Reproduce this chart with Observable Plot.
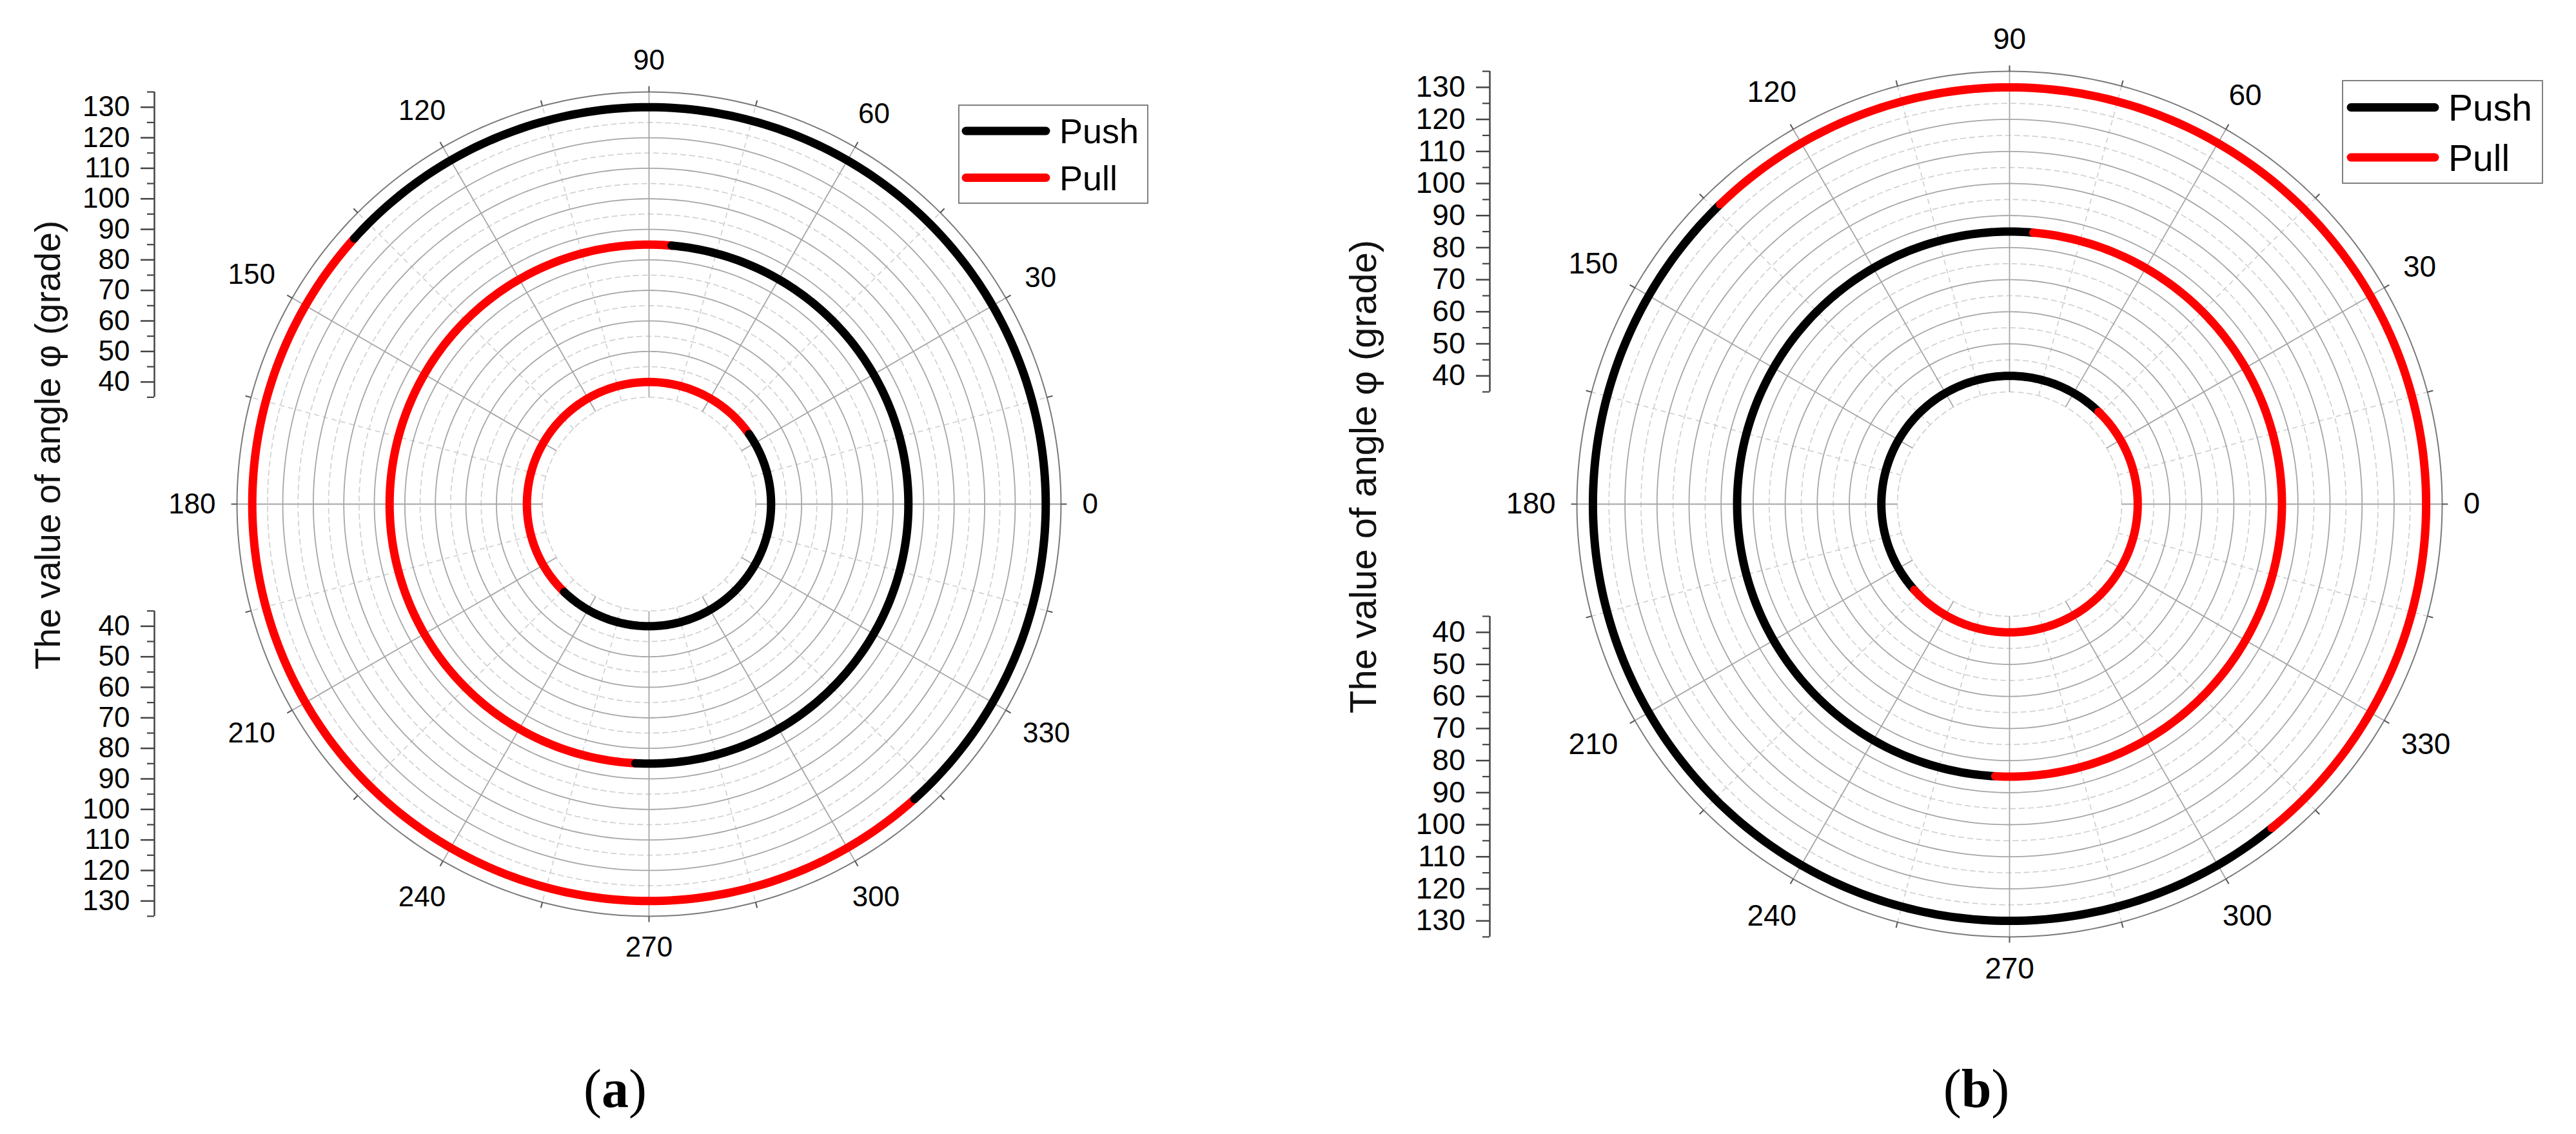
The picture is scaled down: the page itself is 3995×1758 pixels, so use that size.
<!DOCTYPE html>
<html><head><meta charset="utf-8">
<script src="https://cdn.jsdelivr.net/npm/d3@7"></script>
<script src="https://cdn.jsdelivr.net/npm/@observablehq/plot@0.6"></script>
<style>
body{margin:0;background:#fff;}
#page{position:relative;width:3995px;height:1758px;background:#fff;overflow:hidden;}
.panel{position:absolute;top:0;}
#overlay{position:absolute;left:0;top:0;pointer-events:none;}
</style></head><body><div id="page"></div>
<script>
// ---------------- data ----------------
const seriesNames = ["Push", "Pull"];
const seriesColors = ["#000000", "#ff0000"];
const ringValues = [40, 85, 130];
// panel (a): Push arc runs counter-clockwise from start to end angle (deg), Pull fills the rest
const pushStartA = [-134, -93, -48];
const pushEndA = [35, 85, 138];
// panel (b)
const pushStartB = [46, 85, 134];
const pushEndB = [222, 267, 309];
const angleTickLabels = [0, 30, 60, 90, 120, 150, 180, 210, 240, 270, 300, 330];
const angleMinorTicks = [15, 45, 75, 105, 135, 165, 195, 225, 255, 285, 315, 345];
const radialTickLabels = [40, 50, 60, 70, 80, 90, 100, 110, 120, 130];
const radialMinorTicks = [35, 45, 55, 65, 75, 85, 95, 105, 115, 125, 135];
const radialRange = [35, 135];
const yTitle = "The value of angle φ (grade)";
const panelLabels = ["a", "b"];

// ---------------- layout ----------------
const FONT = "'Liberation Sans', Arial, sans-serif";
const panels = [
  {left: 0, width: 1998, height: 1600, k: 4.733, cx: 1006, cy: 781, axisX: 239, fs: 44,
   pushStart: pushStartA, pushEnd: pushEndA, top: "Push",
   legend: {x: 1487, y: 163, w: 293, h: 152, l0: 4, l1: 142, tx: 156, r1: 40, r2: 112.5, fs: 54},
   title: {x: 74, y: 690, fs: 55}, cap: {x: 954, y: 1716, fs: 84}},
  {left: 1998, width: 1997, height: 1600, k: 4.97, cx: 3116, cy: 781, axisX: 2310, fs: 46,
   pushStart: pushStartB, pushEnd: pushEndB, top: "Pull",
   legend: {x: 3633, y: 125, w: 310, h: 159, l0: 6, l1: 150, tx: 164, r1: 41.5, r2: 119, fs: 57},
   title: {x: 2113, y: 739, fs: 58}, cap: {x: 3065, y: 1716, fs: 84}}
];

const rad = Math.PI / 180;
const cosd = a => Math.cos(a * rad), sind = a => Math.sin(a * rad);
function arcPts(r, a0, a1, extra) {
  const n = Math.max(2, Math.ceil(Math.abs(a1 - a0)));
  return d3.range(n + 1).map(i => {
    const a = a0 + (a1 - a0) * i / n;
    return {...extra, x: r * cosd(a), y: r * sind(a)};
  });
}

const page = document.getElementById("page");

panels.forEach((cfg, pi) => {
  const k = cfg.k;
  const xd = [-(cfg.cx - cfg.axisX) / k, (cfg.left + cfg.width - cfg.cx) / k];
  const yd = [-(cfg.height - cfg.cy) / k, cfg.cy / k];
  const [rMin, rMax] = radialRange;

  // rings
  const segs = ringValues.flatMap((v, i) => [
    {series: "Push", v, a0: cfg.pushStart[i], a1: cfg.pushEnd[i]},
    {series: "Pull", v, a0: cfg.pushEnd[i], a1: cfg.pushStart[i] + 360}
  ]);
  const pts = segs.flatMap((s, j) => arcPts(s.v, s.a0, s.a1, {seg: j, series: s.series}));
  const order = cfg.top === "Push" ? ["Pull", "Push"] : ["Push", "Pull"];

  const solidCircles = radialTickLabels.flatMap(r => arcPts(r, 0, 360, {r}));
  const dashCircles = radialMinorTicks.filter(r => r < rMax).flatMap(r => arcPts(r, 0, 360, {r}));
  const outerCircle = arcPts(rMax, 0, 360, {r: rMax});

  const labelR = a => {
    const w = String(a).length * 0.556 * cfg.fs, h = 0.72 * cfg.fs;
    return rMax + (33 + Math.abs(cosd(a)) * w / 2 + Math.abs(sind(a)) * h / 2) / k;
  };

  const axisSegs = [{y1: rMin, y2: rMax}, {y1: -rMin, y2: -rMax}];
  const majorTicks = radialTickLabels.flatMap(v => [v, -v]);
  const minorTicks = radialMinorTicks.flatMap(v => [v, -v]);

  const chart = Plot.plot({
    width: cfg.width, height: cfg.height,
    marginLeft: cfg.axisX - cfg.left, marginRight: 0, marginTop: 0, marginBottom: 0,
    x: {domain: xd, axis: null},
    y: {domain: yd},
    color: {domain: seriesNames, range: seriesColors},
    style: {fontFamily: FONT, fontSize: cfg.fs + "px", background: "transparent", overflow: "visible"},
    marks: [
      // grid
      Plot.line(dashCircles, {x: "x", y: "y", z: "r", stroke: "#cfcfcf", strokeWidth: 1.6, strokeDasharray: "8,6"}),
      Plot.link(angleMinorTicks, {x1: a => rMin * cosd(a), y1: a => rMin * sind(a), x2: a => rMax * cosd(a), y2: a => rMax * sind(a),
        stroke: "#cfcfcf", strokeWidth: 1.6, strokeDasharray: "8,6"}),
      Plot.line(solidCircles, {x: "x", y: "y", z: "r", stroke: "#a6a6a6", strokeWidth: 1.8}),
      Plot.link(angleTickLabels, {x1: a => rMin * cosd(a), y1: a => rMin * sind(a), x2: a => rMax * cosd(a), y2: a => rMax * sind(a),
        stroke: "#a6a6a6", strokeWidth: 1.8}),
      Plot.line(outerCircle, {x: "x", y: "y", stroke: "#7a7a7a", strokeWidth: 2}),
      Plot.link(angleTickLabels.concat(angleMinorTicks), {x1: a => rMax * cosd(a), y1: a => rMax * sind(a),
        x2: a => (rMax + 9 / k) * cosd(a), y2: a => (rMax + 9 / k) * sind(a), stroke: "#555", strokeWidth: 2}),
      // rings
      ...order.map(s => Plot.line(pts.filter(p => p.series === s), {x: "x", y: "y", z: "seg", stroke: "series",
        strokeWidth: 13, strokeLinecap: "round", strokeLinejoin: "round"})),
      // angle labels
      Plot.text(angleTickLabels, {x: a => labelR(a) * cosd(a), y: a => labelR(a) * sind(a), text: a => String(a),
        fontSize: cfg.fs, fill: "#000"}),
      // radial axis
      Plot.ruleX(axisSegs, {x: () => xd[0], y1: "y1", y2: "y2", stroke: "#444", strokeWidth: 2.5}),
      Plot.ruleY(minorTicks, {y: d => d, x1: () => xd[0] - 11 / k, x2: () => xd[0], stroke: "#444", strokeWidth: 2.2}),
      Plot.axisY(majorTicks, {anchor: "left", tickSize: 21, tickPadding: 17, tickFormat: d => Math.abs(d),
        label: null, stroke: "#444", strokeWidth: 2.5, fontSize: cfg.fs, fill: "#000"})
    ]
  });
  chart.classList.add("panel");
  chart.style.left = cfg.left + "px";
  page.appendChild(chart);
});

// overlay: axis titles, legends, captions
const ov = d3.select(page).append("svg").attr("id", "overlay").attr("width", 3995).attr("height", 1758);
panels.forEach((cfg, pi) => {
  const t = cfg.title;
  ov.append("text").attr("transform", `translate(${t.x},${t.y}) rotate(-90)`)
    .attr("text-anchor", "middle").attr("dominant-baseline", "central")
    .attr("font-family", FONT).attr("font-size", t.fs).attr("fill", "#111").text(yTitle);

  const L = cfg.legend;
  const g = ov.append("g").attr("transform", `translate(${L.x},${L.y})`);
  g.append("rect").attr("width", L.w).attr("height", L.h).attr("fill", "#fff").attr("stroke", "#808080").attr("stroke-width", 2);
  seriesNames.forEach((s, i) => {
    const yy = i === 0 ? L.r1 : L.r2;
    g.append("line").attr("x1", L.l0 + 7).attr("x2", L.l1 - 7).attr("y1", yy).attr("y2", yy)
      .attr("stroke", seriesColors[i]).attr("stroke-width", 13).attr("stroke-linecap", "round");
    g.append("text").attr("x", L.tx).attr("y", yy + 0.36 * L.fs).attr("font-family", FONT).attr("font-size", L.fs)
      .attr("fill", "#000").text(s);
  });

  const c = cfg.cap;
  const ct = ov.append("text").attr("x", c.x).attr("y", c.y).attr("text-anchor", "middle")
    .attr("font-family", "'Liberation Serif', 'Times New Roman', serif").attr("font-size", c.fs).attr("fill", "#000");
  ct.append("tspan").text("(");
  ct.append("tspan").attr("font-weight", "bold").text(panelLabels[pi]);
  ct.append("tspan").text(")");
});
</script></body></html>
